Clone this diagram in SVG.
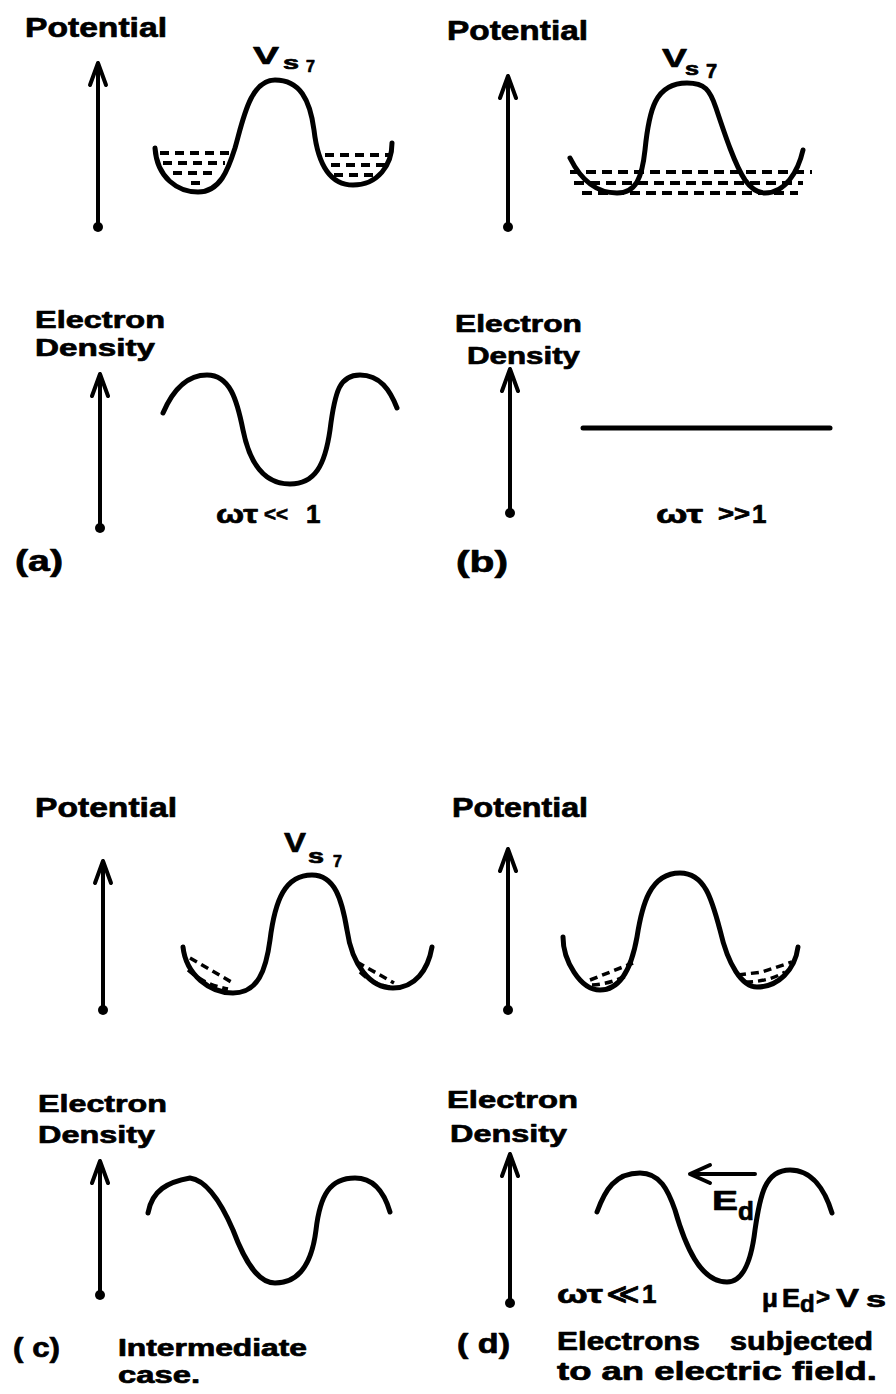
<svg xmlns="http://www.w3.org/2000/svg" width="896" height="1394" viewBox="0 0 896 1394">
<style>
.t{font-family:"Liberation Sans","DejaVu Sans",sans-serif;font-weight:bold;fill:#000;stroke:#000;stroke-width:0.7;stroke-linejoin:round}
.ax{stroke:#000;stroke-width:4;fill:none;stroke-linecap:round;stroke-linejoin:round}
.cv{stroke:#000;stroke-width:5;fill:none;stroke-linecap:round;stroke-linejoin:round}
.ds{stroke:#000;stroke-width:4;fill:none;stroke-dasharray:9 6}
.dd{stroke:#000;stroke-width:3.5;fill:none;stroke-dasharray:8 5}
</style>
<rect width="896" height="1394" fill="#fff"/>

<!-- Panel (a) potential -->
<g id="a-potential">
<text class="t" x="25" y="37" font-size="28" textLength="142" lengthAdjust="spacingAndGlyphs">Potential</text>
<text class="t" x="253" y="64" font-size="23" textLength="26" lengthAdjust="spacingAndGlyphs">V</text>
<text class="t" x="283" y="69" font-size="19" textLength="16" lengthAdjust="spacingAndGlyphs">s</text>
<text class="t" x="306" y="72" font-size="16">7</text>
<path class="cv" d="M155,148 C157,178 178,192 198,192 C220,192 228,170 235,148 C243,120 250,80 275,80 C300,80 310,100 314,130 C318,165 330,185 353,185 C378,185 392,165 392,143"/>
<path class="ds" d="M160,153 H231 M163,163 H225 M173,173 H218 M191,183 H205"/>
<path class="ds" d="M325,155 H389 M331,165 H385 M334,175 H376"/>
</g>

<!-- Panel (b) potential -->
<g id="b-potential">
<text class="t" x="447" y="40" font-size="28" textLength="141" lengthAdjust="spacingAndGlyphs">Potential</text>
<text class="t" x="662" y="67" font-size="26" textLength="25" lengthAdjust="spacingAndGlyphs">V</text>
<text class="t" x="685" y="75" font-size="19" textLength="14" lengthAdjust="spacingAndGlyphs">s</text>
<text class="t" x="706" y="78" font-size="20">7</text>
<path class="cv" d="M570,158 C582,182 598,193 617,193 C636,193 642,178 645,150 C649,110 655,83 687,83 C705,83 710,90 716,108 C725,135 735,165 745,180 C752,190 758,193 765,193 C785,193 798,172 803,150"/>
<path class="ds" style="stroke-dasharray:10 6" d="M570,172 H812 M574,183 H803 M582,193 H798"/>
</g>

<!-- Panel (a) density -->
<g id="a-density">
<text class="t" x="35" y="328" font-size="24" textLength="130" lengthAdjust="spacingAndGlyphs">Electron</text>
<text class="t" x="35" y="356" font-size="24" textLength="120" lengthAdjust="spacingAndGlyphs">Density</text>
<path class="cv" d="M163,413 C175,385 190,375 207,375 C230,375 237,400 243,430 C250,465 265,484 290,484 C315,484 325,465 330,430 C335,390 340,375 360,375 C380,375 390,390 397,408"/>
<text class="t" x="216" y="523" font-size="26" textLength="42" lengthAdjust="spacingAndGlyphs">ωτ</text>
<text class="t" x="264" y="521" font-size="20" textLength="24" lengthAdjust="spacingAndGlyphs">&lt;&lt;</text>
<text class="t" x="306" y="523" font-size="26">1</text>
<text class="t" x="15" y="571" font-size="30" textLength="48" lengthAdjust="spacingAndGlyphs">(a)</text>
</g>

<!-- Panel (b) density -->
<g id="b-density">
<text class="t" x="455" y="332" font-size="24" textLength="127" lengthAdjust="spacingAndGlyphs">Electron</text>
<text class="t" x="467" y="364" font-size="24" textLength="113" lengthAdjust="spacingAndGlyphs">Density</text>
<path class="cv" d="M583,428 H830"/>
<text class="t" x="656" y="523" font-size="26" textLength="47" lengthAdjust="spacingAndGlyphs">ωτ</text>
<text class="t" x="718" y="521" font-size="22" textLength="32" lengthAdjust="spacingAndGlyphs">&gt;&gt;</text>
<text class="t" x="752" y="523" font-size="26">1</text>
<text class="t" x="456" y="572" font-size="30" textLength="52" lengthAdjust="spacingAndGlyphs">(b)</text>
</g>

<!-- Panel (c) potential -->
<g id="c-potential">
<text class="t" x="35" y="817" font-size="28" textLength="142" lengthAdjust="spacingAndGlyphs">Potential</text>
<text class="t" x="284" y="852" font-size="27" textLength="22" lengthAdjust="spacingAndGlyphs">V</text>
<text class="t" x="308" y="863" font-size="20" textLength="16" lengthAdjust="spacingAndGlyphs">s</text>
<text class="t" x="333" y="867" font-size="16">7</text>
<path class="cv" d="M183,947 C186,975 210,993 233,993 C258,993 266,970 270,940 C275,900 285,875 312,875 C335,875 342,900 347,930 C352,965 370,988 393,988 C415,988 428,970 432,947"/>
<path class="dd" d="M190,958 L233,983 M188,970 Q205,985 228,989"/>
<path class="dd" d="M357,962 L394,983 M360,972 Q372,984 390,987"/>
</g>

<!-- Panel (d) potential -->
<g id="d-potential">
<text class="t" x="452" y="817" font-size="28" textLength="136" lengthAdjust="spacingAndGlyphs">Potential</text>
<path class="cv" d="M563,937 C563,960 580,990 600,990 C622,990 632,965 637,937 C642,905 650,873 680,873 C705,873 712,900 720,930 C728,965 742,987 757,987 C778,987 795,970 798,947"/>
<path class="dd" d="M590,980 L633,963 M592,985 Q610,984 628,975"/>
<path class="dd" d="M738,975 L762,972 L792,962 M745,982 Q768,982 785,972"/>
</g>

<!-- Panel (c) density -->
<g id="c-density">
<text class="t" x="38" y="1112" font-size="24" textLength="129" lengthAdjust="spacingAndGlyphs">Electron</text>
<text class="t" x="38" y="1143" font-size="24" textLength="117" lengthAdjust="spacingAndGlyphs">Density</text>
<path class="cv" d="M148,1213 C152,1190 168,1182 190,1178 C205,1180 220,1200 233,1230 C245,1262 258,1283 275,1283 C300,1283 312,1262 316,1230 C320,1195 330,1178 355,1178 C375,1178 385,1195 390,1212"/>
<text class="t" x="13" y="1357" font-size="28" textLength="47" lengthAdjust="spacingAndGlyphs">( c)</text>
<text class="t" x="118" y="1356" font-size="23" textLength="189" lengthAdjust="spacingAndGlyphs">Intermediate</text>
<text class="t" x="118" y="1383" font-size="23" textLength="82" lengthAdjust="spacingAndGlyphs">case.</text>
</g>

<!-- Panel (d) density -->
<g id="d-density">
<text class="t" x="447" y="1108" font-size="24" textLength="131" lengthAdjust="spacingAndGlyphs">Electron</text>
<text class="t" x="450" y="1142" font-size="24" textLength="117" lengthAdjust="spacingAndGlyphs">Density</text>
<path class="cv" d="M597,1212 C605,1190 615,1173 640,1173 C660,1173 668,1190 675,1210 C685,1245 700,1282 727,1282 C745,1282 752,1255 755,1230 C760,1195 765,1170 790,1170 C812,1170 825,1190 832,1213"/>
<path class="ax" d="M755,1174 H690 M710,1165 L690,1174 L710,1183"/>
<text class="t" x="712" y="1210" font-size="28" textLength="26" lengthAdjust="spacingAndGlyphs">E</text>
<text class="t" x="738" y="1220" font-size="26">d</text>
<text class="t" x="557" y="1303" font-size="26" textLength="46" lengthAdjust="spacingAndGlyphs">ωτ</text>
<text class="t" x="606" y="1302" font-size="24" textLength="34" lengthAdjust="spacingAndGlyphs">≪</text>
<text class="t" x="642" y="1303" font-size="26">1</text>
<text class="t" x="762" y="1307" font-size="26">μ</text>
<text class="t" x="782" y="1307" font-size="26" textLength="18" lengthAdjust="spacingAndGlyphs">E</text>
<text class="t" x="800" y="1312" font-size="24">d</text>
<text class="t" x="816" y="1305" font-size="24">&gt;</text>
<text class="t" x="836" y="1307" font-size="26" textLength="23" lengthAdjust="spacingAndGlyphs">V</text>
<text class="t" x="866" y="1307" font-size="22" textLength="20" lengthAdjust="spacingAndGlyphs">s</text>
<text class="t" x="457" y="1353" font-size="28" textLength="53" lengthAdjust="spacingAndGlyphs">( d)</text>
<text class="t" x="557" y="1350" font-size="25" textLength="143" lengthAdjust="spacingAndGlyphs">Electrons</text>
<text class="t" x="730" y="1350" font-size="25" textLength="143" lengthAdjust="spacingAndGlyphs">subjected</text>
<text class="t" x="557" y="1380" font-size="25" textLength="320" lengthAdjust="spacingAndGlyphs">to an electric field.</text>
</g>

<!-- Axes -->
<g id="connectors">
<path class="ax" d="M98,64 V227 M90,85 L98,63 L106,85"/>
<circle cx="98" cy="227" r="5"/>
<path class="ax" d="M508,77 V227 M500,98 L508,76 L516,98"/>
<circle cx="508" cy="227" r="5"/>
<path class="ax" d="M100,375 V528 M92,396 L100,374 L108,396"/>
<circle cx="100" cy="528" r="5"/>
<path class="ax" d="M510,370 V513 M502,391 L510,369 L518,391"/>
<circle cx="510" cy="513" r="5"/>
<path class="ax" d="M103,862 V1010 M95,883 L103,861 L111,883"/>
<circle cx="103" cy="1010" r="5"/>
<path class="ax" d="M508,850 V1010 M500,871 L508,849 L516,871"/>
<circle cx="508" cy="1010" r="5"/>
<path class="ax" d="M100,1162 V1295 M92,1183 L100,1161 L108,1183"/>
<circle cx="100" cy="1295" r="5"/>
<path class="ax" d="M510,1155 V1303 M502,1176 L510,1154 L518,1176"/>
<circle cx="510" cy="1303" r="5"/>
</g>
</svg>
